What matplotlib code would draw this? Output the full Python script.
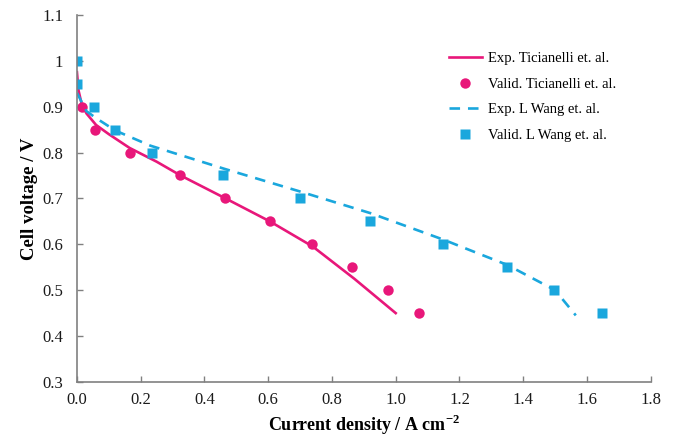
import matplotlib
matplotlib.use("Agg")
import matplotlib.pyplot as plt
import numpy as np

# Experimental polarisation curve, Ticianelli et al.
exp_tic_x = [0.0, 0.005, 0.015, 0.03, 0.06, 0.10, 0.165, 0.25, 0.325, 0.466, 0.605, 0.74, 0.87, 1.0]
exp_tic_y = [0.975, 0.935, 0.905, 0.885, 0.86, 0.84, 0.81, 0.78, 0.75, 0.70, 0.65, 0.595, 0.525, 0.45]

# Validation points, Ticianelli et al.
val_tic_x = [0.016, 0.058, 0.165, 0.324, 0.466, 0.605, 0.738, 0.862, 0.977, 1.073]
val_tic_y = [0.90, 0.85, 0.80, 0.75, 0.70, 0.65, 0.60, 0.55, 0.50, 0.45]

# Experimental polarisation curve, L Wang et al.
exp_wang_x = [0.0, 0.03, 0.06, 0.12, 0.23, 0.46, 0.70, 0.92, 1.15, 1.35, 1.50, 1.565]
exp_wang_y = [0.93, 0.89, 0.875, 0.848, 0.815, 0.765, 0.715, 0.668, 0.61, 0.555, 0.50, 0.445]

# Validation points, L Wang et al.
val_wang_x = [0.0, 0.0, 0.053, 0.118, 0.234, 0.459, 0.699, 0.918, 1.149, 1.35, 1.498, 1.648]
val_wang_y = [1.00, 0.95, 0.90, 0.85, 0.80, 0.75, 0.70, 0.65, 0.60, 0.55, 0.50, 0.45]

x_ticks = [0.0, 0.2, 0.4, 0.6, 0.8, 1.0, 1.2, 1.4, 1.6, 1.8]
y_ticks = [0.3, 0.4, 0.5, 0.6, 0.7, 0.8, 0.9, 1.0, 1.1]
y_tick_labels = ["0.3", "0.4", "0.5", "0.6", "0.7", "0.8", "0.9", "1", "1.1"]

magenta = "#E8177A"
cyan = "#1AA7DD"

plt.rcParams["font.family"] = ["Liberation Serif", "DejaVu Serif"]
plt.rcParams["mathtext.fontset"] = "custom"
plt.rcParams["mathtext.rm"] = "Liberation Serif"
plt.rcParams["mathtext.bf"] = "Liberation Serif:bold"

fig = plt.figure(figsize=(6.75, 4.37), dpi=100)
ax = fig.add_axes([0.114, 0.126, 0.850, 0.840])

ax.plot(exp_tic_x, exp_tic_y, color=magenta, lw=1.9, label="Exp. Ticianelli et. al.")
ax.plot(val_tic_x, val_tic_y, "o", color=magenta, ms=7.5, mec="none",
        label="Valid. Ticianelli et. al.")
ax.plot(exp_wang_x, exp_wang_y, color=cyan, lw=1.9, ls=(0, (4, 3)),
        label="Exp. L Wang et. al.")
ax.plot(val_wang_x, val_wang_y, "s", color=cyan, ms=7, mec="none",
        label="Valid. L Wang et. al.")

ax.set_xlim(0, 1.8)
ax.set_ylim(0.3, 1.1)
ax.set_xticks(x_ticks)
ax.set_xticklabels([f"{v:.1f}" for v in x_ticks])
ax.set_yticks(y_ticks)
ax.set_yticklabels(y_tick_labels)

for side in ("top", "right"):
    ax.spines[side].set_visible(False)
for side in ("left", "bottom"):
    ax.spines[side].set_color("#808080")
    ax.spines[side].set_linewidth(1.2)
ax.tick_params(axis="both", direction="in", length=4, width=1, color="#808080",
               labelsize=12, labelcolor="#1a1a1a")
ax.tick_params(axis="y", pad=10)
ax.tick_params(axis="x", pad=7)

ax.set_xlabel("Current density / A cm$^{\\mathbf{-2}}$", fontsize=13, fontweight="bold",
              labelpad=4)
ax.set_ylabel("Cell voltage / V", fontsize=13.5, fontweight="bold", labelpad=3)

leg = ax.legend(loc="upper right", bbox_to_anchor=(0.963, 0.935), frameon=False,
                fontsize=10.5, handlelength=2.3, labelspacing=0.85, handletextpad=0.4)

fig.savefig("out.png", dpi=100)
